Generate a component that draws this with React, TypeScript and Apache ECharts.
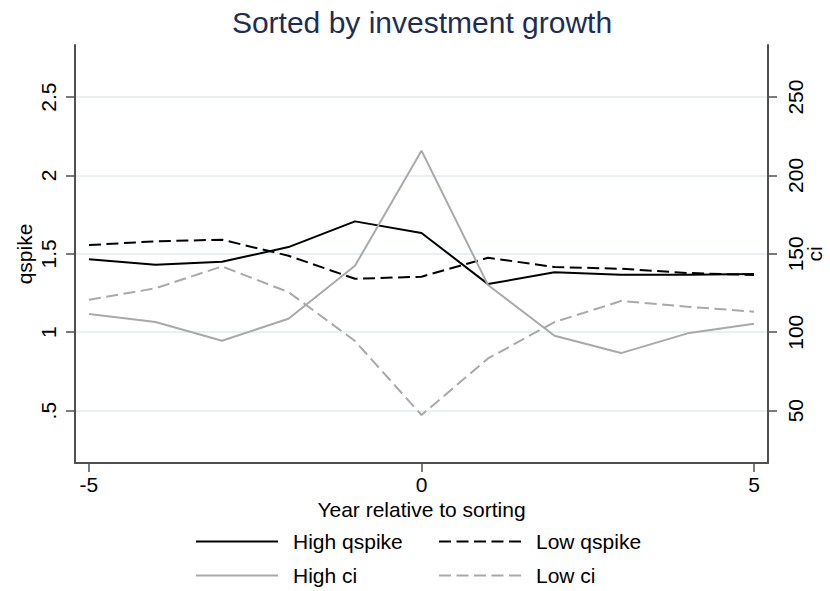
import React, { useEffect, useRef } from "react";
import * as echarts from "echarts";

// Event-time axis (years relative to sorting)
const years = [-5, -4, -3, -2, -1, 0, 1, 2, 3, 4, 5];

// qspike (left axis)
const highQspike = [1.465, 1.431, 1.45, 1.543, 1.707, 1.633, 1.307, 1.382, 1.367, 1.367, 1.371];
const lowQspike = [1.556, 1.58, 1.59, 1.488, 1.341, 1.354, 1.475, 1.416, 1.405, 1.378, 1.365];

// ci (right axis)
const highCi = [111.6, 106.5, 94.6, 108.6, 142.4, 215.8, 130.1, 97.8, 86.7, 99.3, 105.4];
const lowCi = [120.7, 128.0, 142.0, 125.6, 94.4, 47.2, 83.3, 106.5, 119.9, 116.3, 113.1];

const xTicks = [-5, 0, 5];
const qTicks = [0.5, 1, 1.5, 2, 2.5];
const ciTicks = [50, 100, 150, 200, 250];

const FONT = "'Liberation Sans', Arial, Helvetica, sans-serif";
const AXIS_COLOR = "#4f4f4f";
const GRID_COLOR = "#e8f0f1";
const GRAY = "#a9a9a9";
const DASH = [12, 5.5];

const pairs = (ys: number[]) => years.map((x, i) => [x, ys[i]]);

const qLabel = (v: number) => (v === 0.5 ? ".5" : String(v));

export default function App() {
  const ref = useRef<HTMLDivElement>(null);

  useEffect(() => {
    if (!ref.current) return;
    const chart = echarts.init(ref.current, undefined, { renderer: "svg" });

    const axisLine = { show: true, onZero: false, lineStyle: { color: AXIS_COLOR, width: 2 } };
    const axisTick = (vals: number[]) => ({
      show: true,
      length: 9,
      customValues: vals,
      lineStyle: { color: AXIS_COLOR, width: 1.5 },
    });
    const nameStyle = { fontSize: 21, color: "#000", fontFamily: FONT, lineHeight: 21 };
    // Rotated labels on the vertical axes are centred on their anchor point
    const centred = { align: "center", verticalAlign: "middle" };
    const legendBase = {
      orient: "vertical",
      top: 531,
      itemWidth: 82,
      itemHeight: 21,
      itemGap: 13,
      padding: 0,
      itemStyle: { opacity: 0 },
      textStyle: { fontSize: 21, color: "#000", fontFamily: FONT, padding: [0, 0, 0, 10] },
    };

    chart.setOption({
      animation: false,
      backgroundColor: "#ffffff",
      textStyle: { fontFamily: FONT },
      graphic: [
        {
          type: "text",
          x: 422,
          y: 7,
          style: {
            text: "Sorted by investment growth",
            fontFamily: FONT,
            fontSize: 30,
            lineHeight: 30,
            fill: "#1e2d54",
            align: "center",
            verticalAlign: "top",
          },
        },
      ],
      grid: {
        left: 75,
        right: 62,
        top: 45,
        bottom: 128,
        containLabel: false,
        outerBoundsMode: "none",
      },
      legend: [
        { ...legendBase, left: 195, data: ["High qspike", "High ci"] },
        { ...legendBase, left: 438, data: ["Low qspike", "Low ci"] },
      ],
      xAxis: {
        type: "value",
        min: -5.21,
        max: 5.21,
        name: "Year relative to sorting",
        nameLocation: "middle",
        nameGap: 36,
        nameMoveOverlap: false,
        nameTextStyle: nameStyle,
        axisLine,
        axisTick: axisTick(xTicks),
        axisLabel: {
          customValues: xTicks,
          fontSize: 21,
          lineHeight: 21,
          color: "#000",
          fontFamily: FONT,
          margin: 11,
        },
        splitLine: { show: false },
      },
      yAxis: [
        {
          type: "value",
          position: "left",
          min: 0.166,
          max: 2.832,
          name: "qspike",
          nameLocation: "middle",
          nameRotate: 90,
          nameGap: 51,
          nameMoveOverlap: false,
          nameTextStyle: { ...nameStyle, ...centred },
          axisLine,
          axisTick: axisTick(qTicks),
          axisLabel: {
            customValues: qTicks,
            rotate: 90,
            fontSize: 21,
            lineHeight: 21,
            color: "#000",
            fontFamily: FONT,
            margin: 27,
            ...centred,
            formatter: qLabel,
          },
          splitLine: { show: true, lineStyle: { color: GRID_COLOR, width: 2 } },
        },
        {
          type: "value",
          position: "right",
          min: 16.6,
          max: 283.2,
          name: "ci",
          nameLocation: "middle",
          nameRotate: 90,
          nameGap: 46,
          nameMoveOverlap: false,
          nameTextStyle: { ...nameStyle, ...centred },
          axisLine,
          axisTick: axisTick(ciTicks),
          axisLabel: {
            customValues: ciTicks,
            rotate: 90,
            fontSize: 21,
            lineHeight: 21,
            color: "#000",
            fontFamily: FONT,
            margin: 27,
            ...centred,
          },
          splitLine: { show: false },
        },
      ],
      series: [
        {
          name: "High qspike",
          type: "line",
          yAxisIndex: 0,
          symbol: "none",
          data: pairs(highQspike),
          lineStyle: { color: "#000", width: 2 },
          itemStyle: { color: "#000" },
        },
        {
          name: "Low qspike",
          type: "line",
          yAxisIndex: 0,
          symbol: "none",
          data: pairs(lowQspike),
          lineStyle: { color: "#000", width: 2, type: DASH },
          itemStyle: { color: "#000" },
        },
        {
          name: "High ci",
          type: "line",
          yAxisIndex: 1,
          symbol: "none",
          data: pairs(highCi),
          lineStyle: { color: GRAY, width: 2 },
          itemStyle: { color: GRAY },
        },
        {
          name: "Low ci",
          type: "line",
          yAxisIndex: 1,
          symbol: "none",
          data: pairs(lowCi),
          lineStyle: { color: GRAY, width: 2, type: DASH },
          itemStyle: { color: GRAY },
        },
      ],
    });

    return () => chart.dispose();
  }, []);

  return (
    <div
      ref={ref}
      style={{ position: "absolute", left: 0, top: 0, width: 830, height: 591, background: "#fff" }}
    />
  );
}
